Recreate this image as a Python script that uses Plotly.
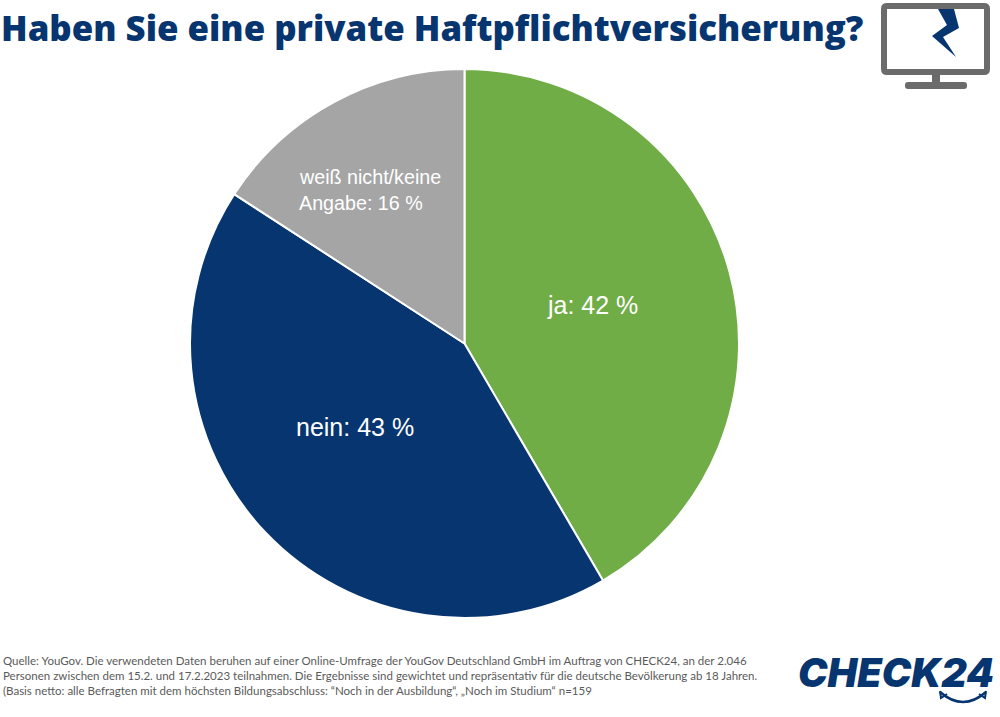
import plotly.graph_objects as go

categories = ["ja", "nein", "weiß nicht/keine Angabe"]
values = [42, 43, 16]
colors = ["#70AD47", "#06356F", "#A5A5A5"]
title = "Haben Sie eine private Haftpflichtversicherung?"
footer = [
    "Quelle: YouGov. Die verwendeten Daten beruhen auf einer Online-Umfrage der YouGov Deutschland GmbH im Auftrag von CHECK24, an der 2.046",
    "Personen zwischen dem 15.2. und 17.2.2023 teilnahmen. Die Ergebnisse sind gewichtet und repräsentativ für die deutsche Bevölkerung ab 18 Jahren.",
    "(Basis netto: alle Befragten mit dem höchsten Bildungsabschluss: “Noch in der Ausbildung“, „Noch im Studium“ n=159",
]
W, H = 1000, 717
NAVY = "#06356F"
GREY = "#6B6B6B"

def px(x): return x / W
def py(y): return 1 - y / H

fig = go.Figure(go.Pie(
    labels=categories, values=values, sort=False, direction="clockwise", rotation=0,
    marker=dict(colors=colors, line=dict(color="white", width=2)),
    textinfo="none", hoverinfo="label+percent", showlegend=False,
    domain=dict(x=[px(190), px(739)], y=[py(618), py(69)]),
))

def note(x, y, text, size, color, family, weight="normal", style="normal"):
    fig.add_annotation(x=px(x), y=py(y), xref="paper", yref="paper", text=text,
                       showarrow=False, xanchor="left", yanchor="middle", align="left",
                       font=dict(size=size, color=color, family=family, weight=weight, style=style))

note(-1, 27, title, 34.8, NAVY, "Open Sans", weight=800)
note(545, 305, "ja: 42 %", 25, "white", "Liberation Sans")
note(294, 427, "nein: 43 %", 25, "white", "Liberation Sans")
note(297, 177, "weiß nicht/keine", 19.7, "white", "Liberation Sans")
note(297, 203, "Angabe: 16 %", 19.7, "white", "Liberation Sans")
for y, line in zip([660, 675, 690], footer):
    note(1, y, line, 11.5, "#5A5A5A", "Lato")
note(796, 673, "CHECK24", 39.5, NAVY, "Inter", weight=900, style="italic")

def rounded(x0, y0, x1, y1, r):
    return (f"M {x0+r} {y0} L {x1-r} {y0} Q {x1} {y0} {x1} {y0+r} L {x1} {y1-r} Q {x1} {y1} {x1-r} {y1} "
            f"L {x0+r} {y1} Q {x0} {y1} {x0} {y1-r} L {x0} {y0+r} Q {x0} {y0} {x0+r} {y0} Z")

shapes = [
    # monitor
    dict(type="path", path=rounded(884, 6, 987, 72, 3), line=dict(color=GREY, width=6), fillcolor="white"),
    dict(type="rect", x0=932, y0=74, x1=940, y1=84, line_width=0, fillcolor=GREY),
    dict(type="path", path=rounded(905, 82, 967, 89, 3), line_width=0, fillcolor=GREY),
    dict(type="path", path="M 938 9 L 954 9 L 959 28 L 943 37 L 956 57 L 932 36 L 947 25 Z",
         line_width=0, fillcolor=NAVY),
    # logo smile
    dict(type="path", path="M 940 692 Q 963 712 986 692", line=dict(color=NAVY, width=2.5)),
    dict(type="path", path="M 940 691 L 941 698 L 947 694", line=dict(color=NAVY, width=2)),
    dict(type="path", path="M 986 691 L 985 698 L 979 694", line=dict(color=NAVY, width=2)),
]
for s in shapes:
    s.update(xref="paper", yref="paper")
    if s["type"] == "rect":
        s.update(x0=px(s["x0"]), x1=px(s["x1"]), y0=py(s["y0"]), y1=py(s["y1"]))
    else:
        out, isx = [], True
        for t in s["path"].split():
            if t.isalpha():
                out.append(t); isx = True
            else:
                out.append(f"{px(float(t)) if isx else py(float(t)):.5f}"); isx = not isx
        s["path"] = " ".join(out)
    fig.add_shape(**s)

fig.update_layout(width=W, height=H, margin=dict(l=0, r=0, t=0, b=0), paper_bgcolor="white")
fig.write_html("out.html", config=dict(displayModeBar=False),
               post_script="document.body.style.margin='0';document.body.style.overflow='hidden';")
